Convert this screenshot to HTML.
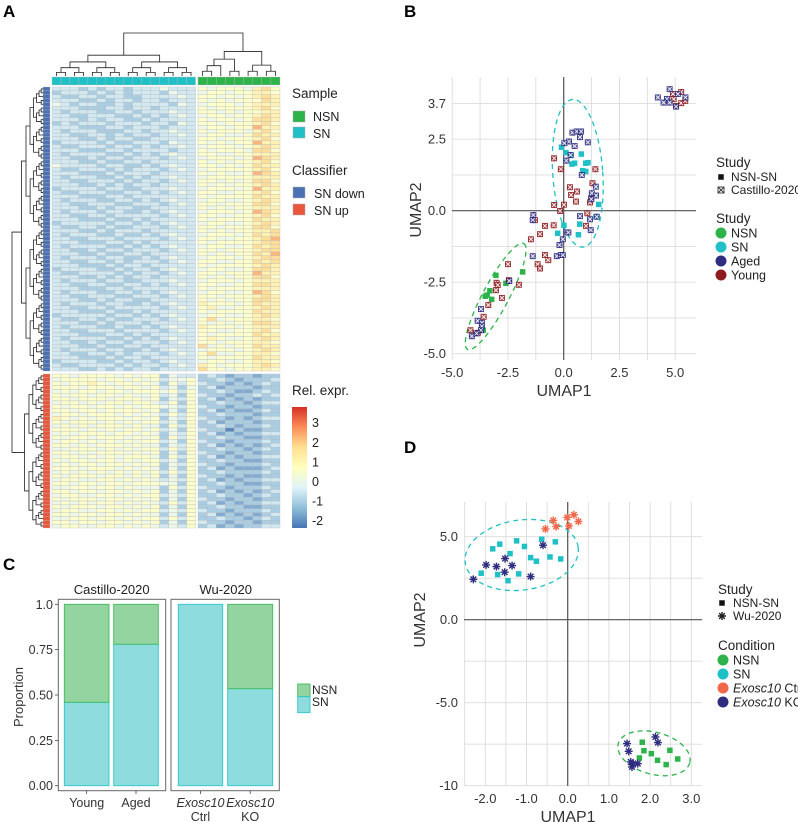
<!DOCTYPE html>
<html><head><meta charset="utf-8"><style>
html,body{margin:0;padding:0;background:#fff;}
svg{display:block;font-family:"Liberation Sans",Arial,sans-serif;}
</style></head><body>
<svg id="fig" width="798" height="822" viewBox="0 0 798 822" xmlns="http://www.w3.org/2000/svg">
<defs>
<linearGradient id="cbar" x1="0" y1="1" x2="0" y2="0">
<stop offset="0" stop-color="#4575B4"/><stop offset="0.167" stop-color="#91BFDB"/><stop offset="0.333" stop-color="#E0F3F8"/><stop offset="0.5" stop-color="#FFFFBF"/><stop offset="0.667" stop-color="#FEE090"/><stop offset="0.833" stop-color="#FC8D59"/><stop offset="1" stop-color="#D73027"/>
</linearGradient>
</defs>
<text x="3" y="17" font-size="17" font-weight="bold">A</text>
<text x="404" y="17" font-size="17" font-weight="bold">B</text>
<text x="3" y="570" font-size="17" font-weight="bold">C</text>
<text x="404" y="453" font-size="17" font-weight="bold">D</text>
<g id="gA"></g>
<g id="gB"></g>
<g id="gC"></g>
<g id="gD"></g>
</svg>
<script>
// ===== Panel A data =====
const upperRows = [
"3332323323334333545554675","2333232323332433455455665","3223323322333343554545676","3332232332332333545455576",
"4323322323333243455545666","3332223323323333545555675","3233322332333433554545566","3322333223232343455455676",
"3332323322323333545545776","2323332333233243554555675","3332223323332333455455866","3233322233233433545554675",
"3322332323323343455445766","3332232332233333554555675","2333323223332433545455866","3223332332323343455545676",
"3332223323333233545554775","3233332232323433554455666","3322323323332343455545876","3332232233233333545455675",
"4333323322323433554545766","3223332323332343455555675","3332223233323333545445876","3233322323233433455555666",
"3322333232332343554545775","3332232323323333545455676","2333323322333433455545866","3223332233232343554455675",
"3332223323333333545555766","3233322332323433455445676","3322333223332343554555775","3332232332233333545455666",
"3233323322323433455545876","3322332333332343554455675","3332223223233333545555766","2333332332323433455445676",
"3223323223332343554555775","3332232333233333545455667","3233322322323433455545767","3322333233332343554455678",
"3332223323233333545555677","3233332232323433455445767","3322323323332343554555677","3332232233233333545455768",
"3233323322323433455545677","3322332323332343554455767","3332223233233333545555676","2333322323323433455445776",
"3223333232332343554555866","3332232323323333545455775","3233323322333433455545666","3322332233232343554455776",
"3332223323333333545555666","3233322332323433455445875","3322333223332343554555676","3332232332233333545455776",
"3233323322323433655545766","3322332333332343564455676","3332223223233333545555766","2333332332323433455445676",
"3223323223332343574555665","3332232333233333545455776","3233322322323433655545666","3322333233332343554455675",
"3332223323233333545555766","3233332232323433565445676","3322323323332343554555665","3332232233233333745455766",
"3233323322323433455545676","3322332323332343574455665","3332223233233333545555766","2333322323323433455445665",
"3223333232332343654555676","3332232323323333755455665"];
const lowerRows = [
"5545555454552433232122122","4555545545453445223212223","5455654554542535322121232","5554555455453424231222122",
"4545545545554535223211232","5455455454453425322122323","5545554555452435231212122","4554545545543525223221233",
"5455455454554435322122122","5545545555452425231211232","4554555454543535223222122","6545455545452435322121233",
"5455545454553425231222122","4545455545442535223212232","5554545455453425322021122","4545554554542435231212233",
"5455455545452535223221122","4554545454553425322122232","5545455545442435231212123","4455545454553535223221232",
"5545455545452425322122122","4554545455542535231212233","5455455454553425223221122","4545545545452435322122232",
"5554555454542425231211123","4545454545453535223222232","5455545545452425322121122","4554455454543435231212233",
"5545545545554425223221122","4455455454442535322122232","5545545545452425231212123","4554455454553435223221232",
"5455545545452425322122122","4545455454543535231212233","5455545545452425223221122","4554455454553435322122232",
"5545545545442425231212123","4455455454553535223221232","5545545545452425322122122","4554455454543435231212233"];
const colGroups = ["SN","SN","SN","SN","SN","SN","SN","SN","SN","SN","SN","SN","SN","SN","SN","SN","NSN","NSN","NSN","NSN","NSN","NSN","NSN","NSN","NSN"];
const cbarTicks = [3,2,1,0,-1,-2];

// ===== Panel B data =====
const bAgedX = [4.22,4.75,4.63,4.48,4.75,5.04,5.12,5.46,0.39,0.58,0.78,0.73,0.24,0.03,0.49,1.08,0.31,0.12,0.81,1.26,1.44,1.45,1.24,0.73,1.18,1.48,1.21,-1.36,-1.39,-0.19,-0.04,0.13,0.21,-0.31,-0.13,-0.04,-1.39,-2.44,-3.71,-3.86,-3.67,-3.67,-3.71,-4.12,-3.91];
const bAgedY = [3.96,4.25,3.91,3.78,3.78,3.64,4.08,3.96,2.73,2.77,2.77,2.57,2.42,2.36,2.26,2.39,1.95,1.75,1.25,0.61,0.84,0.53,0.40,-0.19,-0.30,-0.21,-0.68,-0.15,-0.33,-1.20,-1.00,-0.76,-0.76,-1.59,-1.55,-1.55,-1.59,-2.46,-3.44,-3.85,-3.92,-4.04,-4.18,-4.39,-4.29];
const bYoungX = [4.90,5.27,4.93,5.27,5.45,5.04,-0.43,-0.13,1.42,0.28,0.60,1.29,1.23,0.33,0.55,1.18,-0.43,0.01,-0.16,1.06,-1.29,-0.45,-0.84,1.00,-1.06,-1.47,-0.84,-0.69,-1.17,-1.06,-2.50,-2.46,-3.01,-2.96,-3.04,-2.77,-2.01,-3.38,-3.59,-4.18,-3.85];
const bYoungY = [4.08,4.15,3.90,3.76,3.84,3.66,1.83,1.45,1.45,0.82,0.67,0.96,0.43,0.55,0.32,0.29,0.20,0.21,-0.01,-0.09,-0.33,-0.51,-0.53,-0.53,-0.82,-1.00,-1.55,-1.73,-1.87,-2.02,-1.87,-2.43,-2.52,-2.60,-2.78,-3.05,-2.59,-3.30,-3.71,-4.18,-4.27];
const bSNX = [-0.10,0.10,0.33,0.79,0.37,0.49,0.99,1.09,0.85,0.99,1.57,1.45,0.01,-0.27,0.72,0.66];
const bSNY = [2.22,2.03,1.93,1.98,1.63,1.66,1.66,1.68,1.40,1.37,0.22,-0.21,-0.51,-0.79,-0.47,-0.84];
const bNSNX = [-3.04,-1.84,-2.59,-3.31,-3.43,-3.52,-3.23,-3.61,-3.94];
const bNSNY = [-2.26,-2.14,-2.54,-2.80,-2.95,-2.99,-3.10,-4.18,-4.29];
const bXTicks = [-5.0,-2.5,0.0,2.5,5.0];
const bYTicks = [-5.0,-2.5,0.0,2.5,3.7];

// ===== Panel C data =====
const cCategories = ["Young","Aged","Ctrl","KO"];
const cSN = [0.46,0.78,1.0,0.535];
const cYTicks = [0,0.25,0.5,0.75,1.0];
const cYLabels = ["0.00","0.25","0.50","0.75","1.0"];

// ===== Panel D data =====
const dCtrlX = [-0.54,-0.35,-0.28,-0.01,0.03,0.15,0.26];
const dCtrlY = [5.47,5.98,5.61,6.16,5.65,6.32,5.92];
const dKOX = [-0.60,-1.52,-1.98,-1.73,-1.35,-1.53,-0.90,-2.29,1.44,1.48,2.13,2.19,1.53,1.56,1.70,1.59];
const dKOY = [4.49,3.68,3.30,3.20,3.26,2.86,2.60,2.43,-7.46,-7.93,-7.06,-7.40,-8.57,-8.87,-8.67,-8.67];
const dSNX = [-0.63,-0.30,-1.24,-1.05,-1.65,-1.82,-1.40,-0.90,-0.43,-0.76,-0.17,-2.10,-1.70,-1.19,-1.45];
const dSNY = [4.85,4.69,4.75,4.41,4.55,4.27,3.98,3.74,3.78,3.52,3.66,2.80,2.72,2.76,2.35];
const dNSNX = [1.81,1.85,2.03,2.48,1.74,2.18,2.67,2.39];
const dNSNY = [-7.38,-7.89,-8.07,-7.87,-8.33,-8.47,-8.39,-8.73];
const dXTicks = [-2.0,-1.0,0.0,1.0,2.0,3.0];
const dYTicks = [5.0,0.0,-5.0,-10];
const dYLabels = ["5.0","0.0","-5.0","-10"];

const NS = "http://www.w3.org/2000/svg";
function mk(tag, attrs, parent){ const e=document.createElementNS(NS,tag); for(const k in attrs) e.setAttribute(k,attrs[k]); parent.appendChild(e); return e; }
function txt(parent, x, y, s, size, anchor, extra){ const e=mk('text',Object.assign({x:x,y:y,'font-size':size,'text-anchor':anchor||'start',fill:'#222'},extra||{}),parent); e.textContent=s; return e; }

const C_NSN="#2db34a", C_SN="#1fc0c6", C_AGED="#2e2d80", C_YOUNG="#8e1c1f", C_CTRL="#f26749";

// ================= Panel A =================
const gA=document.getElementById('gA');
const pal=["#4575B4","#91BFDB","#E0F3F8","#FFFFBF","#FEE090","#FC8D59","#D73027"];
function hx(h){return [parseInt(h.substr(1,2),16),parseInt(h.substr(3,2),16),parseInt(h.substr(5,2),16)];}
function colorOf(v){ let t=(v+2.4)/6.2; t=Math.max(0,Math.min(1,t)); const p=t*6; const i=Math.min(5,Math.floor(p)); const f=p-i; const a=hx(pal[i]), b=hx(pal[i+1]); return 'rgb('+a.map((c,k)=>Math.round((c+(b[k]-c)*f)*0.88+255*0.12)).join(',')+')'; }
function digitVal(d){ return d*0.6-2.4; }
const colX = i => i<16 ? 52 + i*8.97 : 198 + (i-16)*9.11;
const colW = i => i<16 ? 8.97 : 9.11;
function drawBlock(rows, y0, rh, block){
  rows.forEach((row, r)=>{
    for(let c=0;c<row.length;c++){
      const v=digitVal(+row[c]);
      const cell=mk('rect',{x:colX(c),y:y0+r*rh,width:colW(c),height:rh,fill:colorOf(v),stroke:'#b9b9b9','stroke-width':0.35},gA);
      
      
    }
    const ann=mk('rect',{x:43,y:y0+r*rh,width:7,height:rh,fill:block==='down'?'#4a72b3':'#e8573c',stroke:'#b9b9b9','stroke-width':0.3},gA);
    
    
  });
}
drawBlock(upperRows, 87, 284/upperRows.length, 'down');
drawBlock(lowerRows, 374, 154/lowerRows.length, 'up');
colGroups.forEach((g,i)=>{
  const a=mk('rect',{x:colX(i),y:77,width:colW(i),height:8,fill:g==='SN'?C_SN:C_NSN,stroke:'#b9b9b9','stroke-width':0.35},gA);
  
  
});
function dendro(leaves, leafLevel, depthScale, vertical, parentG, nameStr){
  function build(a,b){
    if(b-a===1) return {p:leaves[a], h:leafLevel};
    const m=a+Math.ceil((b-a)/2);
    const L=build(a,m), R=build(m,b);
    const h = Math.min(L.h,R.h)-depthScale*(1+0.4*Math.log2(b-a));
    let d;
    if(vertical) d='M'+L.p+','+L.h+'V'+h+'H'+R.p+'V'+R.h;
    else d='M'+L.h+','+L.p+'H'+h+'V'+R.p+'H'+R.h;
    const pth=mk('path',{d:d,fill:'none',stroke:'#222','stroke-width':0.8},parentG);
    
    
    return {p:(L.p+R.p)/2, h:h};
  }
  return build(0,leaves.length);
}
const snLeaves=[], nsnLeaves=[];
for(let i=0;i<16;i++) snLeaves.push(colX(i)+colW(i)/2);
for(let i=16;i<25;i++) nsnLeaves.push(colX(i)+colW(i)/2);
const tSN=dendro(snLeaves,76,2.6,true,gA,'column-dendrogram');
const tNSN=dendro(nsnLeaves,76,3.4,true,gA,'column-dendrogram');
const rootC=mk('path',{d:'M'+tSN.p+','+tSN.h+'V33H'+tNSN.p+'V'+tNSN.h,fill:'none',stroke:'#222','stroke-width':0.8},gA);


const upL=[], loL=[];
for(let r=0;r<upperRows.length;r++) upL.push(87+(r+0.5)*284/upperRows.length);
for(let r=0;r<lowerRows.length;r++) loL.push(374+(r+0.5)*154/lowerRows.length);
const tUp=dendro(upL,43,1.3,false,gA,'row-dendrogram');
const tLo=dendro(loL,43,1.4,false,gA,'row-dendrogram');
const rootR=mk('path',{d:'M'+tUp.h+','+tUp.p+'H12V'+tLo.p+'H'+tLo.h,fill:'none',stroke:'#222','stroke-width':0.8},gA);


let t;
t=txt(gA,292,98,'Sample',13.5);  
let lr;
lr=mk('rect',{x:293,y:111,width:12,height:11,fill:C_NSN,stroke:'#aaa','stroke-width':0.5},gA);  
t=txt(gA,313,121,'NSN',12.5);  
lr=mk('rect',{x:293,y:127,width:12,height:11,fill:C_SN,stroke:'#aaa','stroke-width':0.5},gA);  
t=txt(gA,313,138,'SN',12.5);  
t=txt(gA,292,175,'Classifier',13.5);  
lr=mk('rect',{x:293,y:187,width:12,height:11,fill:'#4a72b3',stroke:'#aaa','stroke-width':0.5},gA);  
t=txt(gA,314,198,'SN down',12.5);  
lr=mk('rect',{x:293,y:204,width:12,height:11,fill:'#e8573c',stroke:'#aaa','stroke-width':0.5},gA);  
t=txt(gA,314,215,'SN up',12.5);  
t=txt(gA,292,395,'Rel. expr.',13.5);  
lr=mk('rect',{x:292,y:407,width:15,height:121,fill:'url(#cbar)'},gA);  
const cbY = v => 481.5 - v*19.6;
cbarTicks.forEach(v=>{
  const l=txt(gA,312,cbY(v)+4.5,String(v),12.5);  
});

// ================= Panel B =================
const gB=document.getElementById('gB');
const bx = v => 563.7 + v*22.3;
const by = v => 210.7 - v*28.6;
function grid(g, xs, ys, x0,x1,y0,y1, name){
  xs.forEach(v=>{ const l=mk('line',{x1:v,x2:v,y1:y0,y2:y1,stroke:'#dcdcdc','stroke-width':0.9},g);   });
  ys.forEach(v=>{ const l=mk('line',{x1:x0,x2:x1,y1:v,y2:v,stroke:'#dcdcdc','stroke-width':0.9},g);   });
}
const bgx=[], bgy=[];
for(let v=-5;v<=5.01;v+=1.25) bgx.push(bx(v));
for(let v=-5;v<=3.76;v+=1.25) bgy.push(by(v));
grid(gB,bgx,bgy,452,696,77,360,'b');
let ax;
ax=mk('line',{x1:bx(0),x2:bx(0),y1:77,y2:360,stroke:'#555','stroke-width':1.2},gB);  
ax=mk('line',{x1:452,x2:696,y1:by(0),y2:by(0),stroke:'#555','stroke-width':1.2},gB);  
bXTicks.forEach(v=>{ const l=txt(gB,bx(v),377,v.toFixed(1),13,'middle',{fill:'#333'});   });
bYTicks.forEach(v=>{ const yy = v===3.7? 103.3 : by(v); const l=txt(gB,446,yy+4.5,v.toFixed(1),13,'end',{fill:'#333'});   });
t=txt(gB,564,396,'UMAP1',16,'middle',{fill:'#333'});  
t=txt(gB,0,0,'UMAP2',16,'middle',{fill:'#333',transform:'translate(421,210) rotate(-90)'});  
let el;
el=mk('ellipse',{cx:bx(0.63),cy:by(1.31),rx:25,ry:74,fill:'none',stroke:C_SN,'stroke-width':1.3,'stroke-dasharray':'5,4',transform:'rotate(-4 '+bx(0.63)+' '+by(1.31)+')'},gB);  
el=mk('ellipse',{cx:bx(-3.05),cy:by(-3.0),rx:60,ry:13,fill:'none',stroke:C_NSN,'stroke-width':1.3,'stroke-dasharray':'5,4',transform:'rotate(-62 '+bx(-3.05)+' '+by(-3.0)+')'},gB);  
function sq(g,x,y,col,s){ return mk('rect',{x:x-s/2,y:y-s/2,width:s,height:s,fill:col},g); }
function xsq(g,x,y,col){
  const grp=mk('g',{},g);
  mk('rect',{x:x-2.6,y:y-2.6,width:5.2,height:5.2,fill:col,'fill-opacity':0.75,stroke:col,'stroke-width':0.7},grp);
  mk('path',{d:'M'+(x-2)+','+(y-2)+'L'+(x+2)+','+(y+2)+'M'+(x+2)+','+(y-2)+'L'+(x-2)+','+(y+2),stroke:'#fff','stroke-width':0.8},grp);
  return grp;
}
bNSNX.forEach((v,i)=>{ const p=sq(gB,bx(v),by(bNSNY[i]),C_NSN,5.5);   });
bSNX.forEach((v,i)=>{ const p=sq(gB,bx(v),by(bSNY[i]),C_SN,5.5);   });
bYoungX.forEach((v,i)=>{ const p=xsq(gB,bx(v),by(bYoungY[i]),C_YOUNG);   });
bAgedX.forEach((v,i)=>{ const p=xsq(gB,bx(v),by(bAgedY[i]),C_AGED);   });
t=txt(gB,716,167,'Study',13.5);  
let lm;
lm=sq(gB,721,177,'#111',5.5);  
t=txt(gB,731,181,'NSN-SN',12);  
lm=mk('g',{},gB); mk('rect',{x:718,y:187,width:6,height:6,fill:'none',stroke:'#333','stroke-width':0.9},lm); mk('path',{d:'M718,187L724,193M724,187L718,193',stroke:'#333','stroke-width':0.9},lm);
 
t=txt(gB,731,194,'Castillo-2020',12);  
t=txt(gB,716,223,'Study',13.5);  
[['NSN',C_NSN,233],['SN',C_SN,247],['Aged',C_AGED,261],['Young',C_YOUNG,275]].forEach(e=>{
  const c=mk('circle',{cx:721,cy:e[2],r:5.5,fill:e[1]},gB);  
  const l=txt(gB,731,e[2]+4.5,e[0],12.5);  
});

// ================= Panel C =================
const gC=document.getElementById('gC');
const cy = v => 785.7 - v*181.4;
const barL=[64.3,113.7,178.3,227.7], barW=[44.7,44.6,44.4,45];
let bxx;
bxx=mk('rect',{x:58.3,y:599.3,width:107.4,height:191.4,fill:'none',stroke:'#666','stroke-width':1},gC);  
bxx=mk('rect',{x:171,y:599.3,width:108.3,height:191.4,fill:'none',stroke:'#666','stroke-width':1},gC);  
t=txt(gC,111.7,594,'Castillo-2020',13,'middle');  
t=txt(gC,225.7,594,'Wu-2020',13,'middle');  
cSN.forEach((v,i)=>{
  const x=barL[i], w=barW[i];
  const b1=mk('rect',{x:x,y:cy(v),width:w,height:cy(0)-cy(v),fill:'#8edcde',stroke:'#2fc7ca','stroke-width':0.9},gC);
   
  if(v<1){
    const b2=mk('rect',{x:x,y:cy(1),width:w,height:cy(v)-cy(1),fill:'#93d4a1',stroke:'#3dbc5c','stroke-width':0.9},gC);
     
  }
  const tk=mk('line',{x1:x+w/2,x2:x+w/2,y1:790.7,y2:794,stroke:'#444','stroke-width':0.8},gC);  
});
cYTicks.forEach((v,i)=>{
  const tk=mk('line',{x1:55,x2:58.3,y1:cy(v),y2:cy(v),stroke:'#444','stroke-width':0.8},gC);  
  const l=txt(gC,53,cy(v)+4.5,cYLabels[i],12.5,'end',{fill:'#333'});  
});
t=txt(gC,86.7,807,'Young',12.5,'middle',{fill:'#333'});  
t=txt(gC,136,807,'Aged',12.5,'middle',{fill:'#333'});  
t=txt(gC,200.5,807,'Exosc10',12.5,'middle',{fill:'#333','font-style':'italic'});  
t=txt(gC,200.5,821,'Ctrl',12.5,'middle',{fill:'#333'});  
t=txt(gC,250.2,807,'Exosc10',12.5,'middle',{fill:'#333','font-style':'italic'});  
t=txt(gC,250.2,821,'KO',12.5,'middle',{fill:'#333'});  
t=txt(gC,0,0,'Proportion',13,'middle',{fill:'#333',transform:'translate(23,697) rotate(-90)'});  
lr=mk('rect',{x:297.7,y:684,width:12.3,height:12.7,fill:'#93d4a1',stroke:'#3dbc5c','stroke-width':0.9},gC);  
lr=mk('rect',{x:297.7,y:696.7,width:12.3,height:16,fill:'#8edcde',stroke:'#2fc7ca','stroke-width':0.9},gC);  
t=txt(gC,312,694,'NSN',12);  
t=txt(gC,312,706,'SN',12);  

// ================= Panel D =================
const gD=document.getElementById('gD');
const dx = v => 567.7 + v*41.2;
const dy = v => 619.7 - v*16.6;
const dgx=[], dgy=[];
for(let v=-2.5;v<=3.01;v+=0.5) dgx.push(dx(v));
for(let v=-10;v<=5.01;v+=2.5) dgy.push(dy(v));
grid(gD,dgx,dgy,464,702,502,786,'d');
ax=mk('line',{x1:dx(0),x2:dx(0),y1:502,y2:786,stroke:'#555','stroke-width':1.2},gD);  
ax=mk('line',{x1:464,x2:702,y1:dy(0),y2:dy(0),stroke:'#555','stroke-width':1.2},gD);  
dXTicks.forEach(v=>{ const l=txt(gD,dx(v),803,v.toFixed(1),13,'middle',{fill:'#333'});   });
dYTicks.forEach((v,i)=>{ const l=txt(gD,458,dy(v)+4.5,dYLabels[i],13,'end',{fill:'#333'});   });
t=txt(gD,568,822,'UMAP1',16,'middle',{fill:'#333'});  
t=txt(gD,0,0,'UMAP2',16,'middle',{fill:'#333',transform:'translate(425,620) rotate(-90)'});  
el=mk('ellipse',{cx:521.7,cy:555,rx:57,ry:35,fill:'none',stroke:C_SN,'stroke-width':1.3,'stroke-dasharray':'5,4',transform:'rotate(-8 521.7 555)'},gD);  
el=mk('ellipse',{cx:654,cy:753.3,rx:37,ry:21,fill:'none',stroke:C_NSN,'stroke-width':1.3,'stroke-dasharray':'5,4',transform:'rotate(15 654 753.3)'},gD);  
function star(g,x,y,col,r){
  const grp=mk('g',{},g);
  let d='';
  for(let k=0;k<4;k++){ const a=k*Math.PI/4; d+='M'+(x-r*Math.cos(a))+','+(y-r*Math.sin(a))+'L'+(x+r*Math.cos(a))+','+(y+r*Math.sin(a)); }
  mk('path',{d:d,stroke:col,'stroke-width':1.4,fill:'none'},grp);
  return grp;
}
dSNX.forEach((v,i)=>{ const p=sq(gD,dx(v),dy(dSNY[i]),C_SN,5.5);   });
dNSNX.forEach((v,i)=>{ const p=sq(gD,dx(v),dy(dNSNY[i]),C_NSN,5.5);   });
dCtrlX.forEach((v,i)=>{ const p=star(gD,dx(v),dy(dCtrlY[i]),C_CTRL,4);   });
dKOX.forEach((v,i)=>{ const p=star(gD,dx(v),dy(dKOY[i]),C_AGED,4);   });
t=txt(gD,718,594,'Study',13.5);  
lm=sq(gD,722,603,'#111',5.5);  
t=txt(gD,733,607,'NSN-SN',12);  
lm=star(gD,722,616,'#222',4);  
t=txt(gD,733,620,'Wu-2020',12);  
t=txt(gD,718,650,'Condition',13.5);  
[['NSN',C_NSN,660,''],['SN',C_SN,674,''],['Ctrl',C_CTRL,688,'Exosc10'],['KO',C_AGED,702,'Exosc10']].forEach(e=>{
  const c=mk('circle',{cx:723,cy:e[2],r:5.5,fill:e[1]},gD);  
  const l=mk('text',{x:733,y:e[2]+4.5,'font-size':12.5,fill:'#222'},gD);
  if(e[3]){ const ts=mk('tspan',{'font-style':'italic'},l); ts.textContent=e[3]+' '; const ts2=mk('tspan',{},l); ts2.textContent=e[0]; }
  else l.textContent=e[0];
   
});
</script>
</body></html>
